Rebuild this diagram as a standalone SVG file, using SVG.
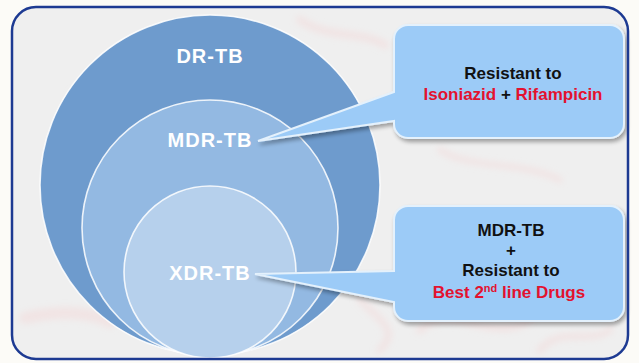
<svg xmlns="http://www.w3.org/2000/svg" width="639" height="363" viewBox="0 0 639 363">
  <defs>
    <style>
      .ring { stroke: #ffffff; stroke-width: 1.6; stroke-opacity: 0.85; }
      .ctext { font-family: "Liberation Sans", Arial, sans-serif; font-weight: bold; font-size: 20px; fill: #ffffff; text-anchor: middle; letter-spacing: 1px; }
      .btext { font-family: "Liberation Sans", Arial, sans-serif; font-weight: bold; font-size: 17px; fill: #111111; text-anchor: middle; }
      .red { fill: #e3122f; }
      .callout { fill: #9ccbf7; stroke: #e4f1fc; stroke-width: 2; }
      .bug { fill: none; stroke: #f3dada; stroke-linecap: round; stroke-opacity: 0.55; }
    </style>
    <clipPath id="frameClip">
      <rect x="12" y="7" width="616" height="352" rx="24" ry="24"/>
    </clipPath>
    <filter id="shadow" x="-10%" y="-10%" width="125%" height="130%">
      <feGaussianBlur in="SourceAlpha" stdDeviation="2"/>
      <feOffset dx="2" dy="3" result="blur"/>
      <feComponentTransfer><feFuncA type="linear" slope="0.35"/></feComponentTransfer>
      <feMerge><feMergeNode/><feMergeNode in="SourceGraphic"/></feMerge>
    </filter>
    <filter id="soft"><feGaussianBlur stdDeviation="3"/></filter>
  </defs>

  <!-- page and framed panel -->
  <rect x="0" y="0" width="639" height="363" fill="#fcfbf7"/>
  <rect x="12" y="7" width="616" height="352" rx="24" ry="24" fill="#efefef"/>

  <!-- faint bacilli texture behind the panel content -->
  <g clip-path="url(#frameClip)" filter="url(#soft)">
    <path class="bug" stroke-width="9" d="M75 95 C 70 120, 60 140, 70 160"/>
    <path class="bug" stroke-width="12" d="M25 318 C 60 310, 90 312, 110 322"/>
    <path class="bug" stroke-width="8" d="M300 20 C 330 40, 360 30, 385 45"/>
    <path class="bug" stroke-width="8" d="M420 330 C 450 300, 490 345, 530 320"/>
    <path class="bug" stroke-width="7" d="M540 350 C 560 325, 590 345, 610 330"/>
    <path class="bug" stroke-width="7" d="M360 300 C 380 320, 400 330, 380 350"/>
    <path class="bug" stroke-width="6" d="M440 150 C 470 170, 520 160, 560 180"/>
  </g>

  <!-- nested drug-resistance circles -->
  <g clip-path="url(#frameClip)">
    <g id="dr-tb">
      <circle class="ring" cx="210" cy="185" r="170" fill="#6e9bcd"/>
      <text class="ctext" x="210" y="63">DR-TB</text>
    </g>
    <g id="mdr-tb">
      <circle class="ring" cx="210" cy="228" r="128" fill="#93b9e2"/>
      <text class="ctext" x="210" y="147">MDR-TB</text>
    </g>
    <g id="xdr-tb">
      <circle class="ring" cx="210" cy="272" r="86" fill="#b6d0ec"/>
      <text class="ctext" x="210" y="280">XDR-TB</text>
    </g>
  </g>

  <!-- callout bubbles with pointers -->
  <g id="connectors">
    <g id="callout-mdr" filter="url(#shadow)">
      <path class="callout" d="M408 25 H610 A14 14 0 0 1 624 39 V124 A14 14 0 0 1 610 138 H408 A14 14 0 0 1 394 124 V121 L258 141 L394 92 V39 A14 14 0 0 1 408 25 Z"/>
    </g>
    <g id="callout-xdr" filter="url(#shadow)">
      <path class="callout" d="M408 206 H610 A14 14 0 0 1 624 220 V307 A14 14 0 0 1 610 321 H408 A14 14 0 0 1 394 307 V302 L255 274 L394 271 V220 A14 14 0 0 1 408 206 Z"/>
    </g>
  </g>

  <g id="note-mdr">
    <text class="btext" x="513" y="79">Resistant to</text>
    <text class="btext" x="513" y="100"><tspan class="red">Isoniazid</tspan> + <tspan class="red">Rifampicin</tspan></text>
  </g>

  <g id="note-xdr">
    <text class="btext" x="511" y="236">MDR-TB</text>
    <text class="btext" x="511" y="256">+</text>
    <text class="btext" x="511" y="276">Resistant to</text>
    <text class="btext red" x="509" y="298">Best 2<tspan font-size="11" dy="-6">nd</tspan><tspan dy="6"> line Drugs</tspan></text>
  </g>

  <!-- panel border -->
  <rect x="12" y="7" width="616" height="352" rx="24" ry="24" fill="none" stroke="#1d3a92" stroke-width="2.5"/>
</svg>
